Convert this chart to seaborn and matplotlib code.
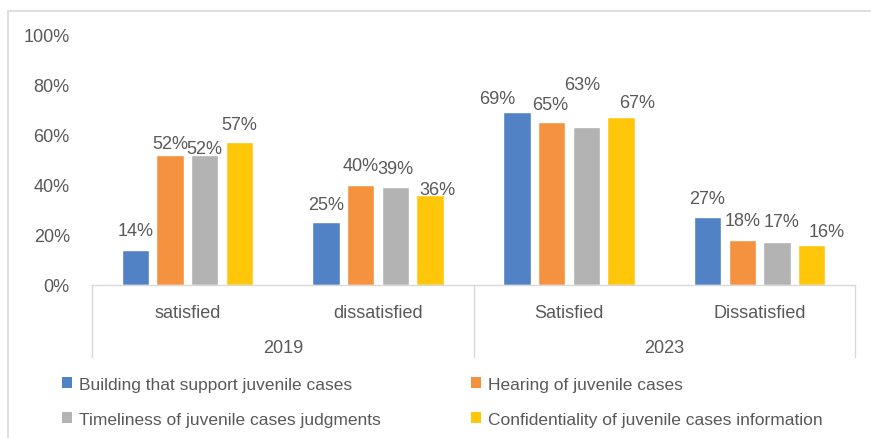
import matplotlib
matplotlib.use("Agg")
import matplotlib.pyplot as plt
from matplotlib.patches import Patch
from matplotlib.lines import Line2D
import seaborn as sns
import pandas as pd

# Survey results: share of respondents per category, by year
years = ["2019", "2023"]
categories = ["satisfied", "dissatisfied", "Satisfied", "Dissatisfied"]
series = [
    "Building that support juvenile cases",
    "Hearing of juvenile cases",
    "Timeliness of juvenile cases judgments",
    "Confidentiality of juvenile cases information",
]
building = [14, 25, 69, 27]
hearing = [52, 40, 65, 18]
timeliness = [52, 39, 63, 17]
confidentiality = [57, 36, 67, 16]
yticks = [0, 20, 40, 60, 80, 100]

colors = ["#5282C6", "#F4923F", "#B3B3B3", "#FFC60A"]
text_color = "#595959"
line_color = "#D9D9D9"
fs = 13
legend_fs = 12.5

# Label nudges (pixels) so neighbouring value labels do not collide
label_nudge = [
    [(0, 19), (0, 17), (-20, 14), (0, 18)],
    [(0, 11), (0, 19), (-1, 18), (0, 19)],
    [(0, 6), (0, 18), (-4, 43), (5, 20)],
    [(0, 18), (7, 5), (16, 14), (15, 13)],
]

values = [building, hearing, timeliness, confidentiality]
rows = []
for name, vals in zip(series, values):
    for cat, v in zip(categories, vals):
        rows.append({"category": cat, "series": name, "value": v})
df = pd.DataFrame(rows)

sns.set_theme(style="white")
plt.rcParams["font.family"] = ["Liberation Sans", "DejaVu Sans"]
plt.rcParams["text.color"] = text_color

W, H = 871, 439
fig = plt.figure(figsize=(W / 100, H / 100), dpi=100)
ax = fig.add_axes([92 / W, (H - 285.5) / H, (855 - 92) / W, 250 / H])

sns.barplot(
    data=df, x="category", y="value", hue="series",
    order=categories, hue_order=series, palette=colors,
    width=0.728, gap=0.21, saturation=1, legend=False, ax=ax,
)

ax.set_ylim(0, 100)
ax.set_xlim(-0.5, len(categories) - 0.5)
ax.set_yticks(yticks)
ax.set_yticklabels([f"{t}%" for t in yticks], fontsize=fs, color=text_color)
ax.tick_params(axis="y", length=0, pad=16)
ax.set_xticks([])
ax.set_xlabel("")
ax.set_ylabel("")
for side in ["left", "right", "top"]:
    ax.spines[side].set_visible(False)
ax.spines["bottom"].set_color(line_color)
ax.spines["bottom"].set_linewidth(1)

# Value labels above each bar
for i, cont in enumerate(ax.containers):
    for j, bar in enumerate(cont):
        v = values[i][j]
        dx, dy = label_nudge[i][j]
        ax.annotate(
            f"{v}%",
            (bar.get_x() + bar.get_width() / 2, bar.get_height()),
            xytext=(dx, dy), textcoords="offset pixels",
            ha="center", va="center", fontsize=fs, color=text_color,
        )

# Two-level category axis: categories then years, with separators
trans = ax.transAxes
n = len(categories)
for j, cat in enumerate(categories):
    ax.text((j + 0.5) / n, -0.11, cat, transform=trans, ha="center",
            va="center", fontsize=fs, color=text_color)
for k, yr in enumerate(years):
    ax.text((k + 0.5) / len(years), -0.252, yr, transform=trans, ha="center",
            va="center", fontsize=fs, color=text_color)
for xf in [0, 0.5, 1]:
    ax.add_line(Line2D([xf, xf], [0, -0.29], transform=trans, color=line_color,
                       lw=1, clip_on=False))

# Chart frame (top and left edges)
fig.add_artist(Line2D([8 / W, 1], [1 - 12 / H, 1 - 12 / H], transform=fig.transFigure,
                      color=line_color, lw=1.2))
fig.add_artist(Line2D([8 / W, 8 / W], [0, 1 - 12 / H], transform=fig.transFigure,
                      color=line_color, lw=1.2))

# Legend in two columns, row-major order
handles = [Patch(facecolor=c, edgecolor="none") for c in colors]
order = [0, 2, 1, 3]
fig.legend(
    [handles[i] for i in order], [series[i] for i in order],
    ncol=2, loc="upper left", bbox_to_anchor=(62 / W, 1 - 378 / H),
    frameon=False, fontsize=legend_fs, handlelength=0.58, handleheight=0.58,
    handletextpad=0.4, labelspacing=1.15, columnspacing=5.2,
    borderpad=0, borderaxespad=0, labelcolor=text_color,
)

fig.savefig("out.png", dpi=100)
